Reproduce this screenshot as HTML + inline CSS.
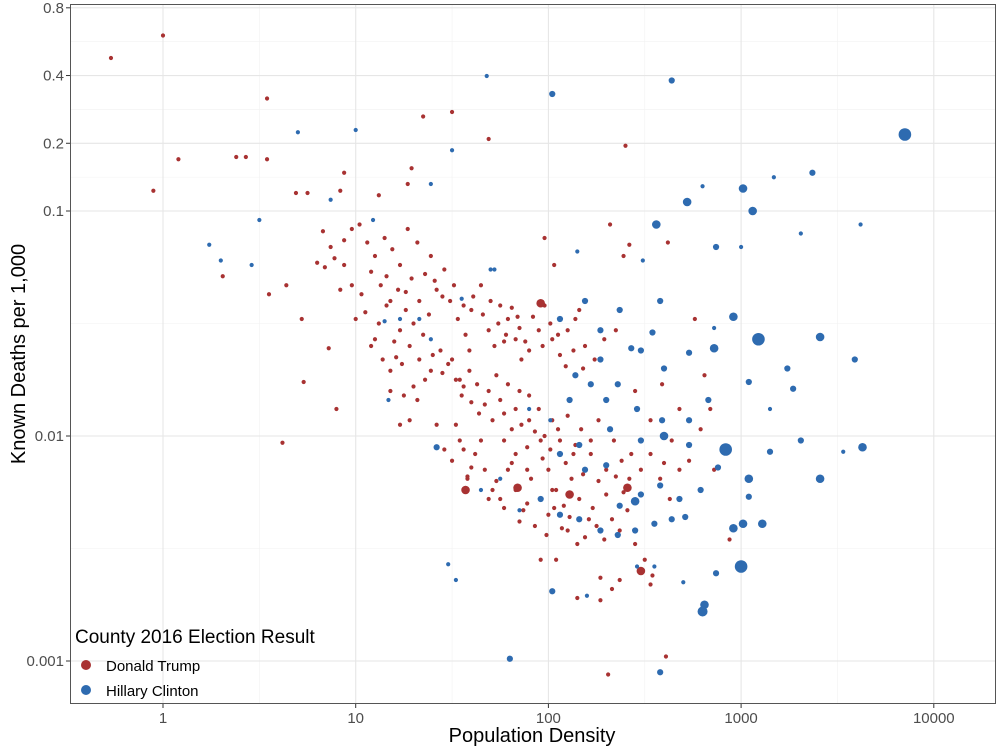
<!DOCTYPE html>
<html>
<head>
<meta charset="utf-8">
<style>
html,body{margin:0;padding:0;background:#fff;}
body{width:1000px;height:750px;overflow:hidden;font-family:"Liberation Sans",Arial,sans-serif;}
svg text{font-family:"Liberation Sans",Arial,sans-serif;}
</style>
</head>
<body>
<svg id="chart" width="1000" height="750" xmlns="http://www.w3.org/2000/svg">
  <rect x="0" y="0" width="1000" height="750" fill="#fff"/>
  <g id="grid"></g>
  <g id="points"></g>
  <rect x="70.5" y="4.5" width="925" height="699" fill="none" stroke="#555" stroke-width="1"/>
  <g id="xticks"></g>
  <g id="yticks"></g>
  <text x="532" y="742" font-size="20" text-anchor="middle" fill="#000">Population Density</text>
  <text transform="translate(25,354) rotate(-90)" font-size="20" text-anchor="middle" fill="#000">Known Deaths per 1,000</text>
  <g>
    <text x="75" y="643" font-size="19" fill="#000">County 2016 Election Result</text>
    <g>
      <circle cx="86" cy="665" r="5" fill="#a83232"/>
      <text x="106" y="671" font-size="15" fill="#000">Donald Trump</text>
    </g>
    <g>
      <circle cx="86" cy="690" r="5" fill="#2e6bb0"/>
      <text x="106" y="696" font-size="15" fill="#000">Hillary Clinton</text>
    </g>
  </g>
</svg>
<script>
// ----- data (log10 of population density, log10 of deaths per 1,000, size class) -----
const xTickValues = [1, 10, 100, 1000, 10000];
const xTickLabels = ["1", "10", "100", "1000", "10000"];
const yTickValues = [0.001, 0.01, 0.1, 0.2, 0.4, 0.8];
const yTickLabels = ["0.001", "0.01", "0.1", "0.2", "0.4", "0.8"];

const trumpLogDensity = [0.83,0.87,0.80,0.89,0.94,0.98,1.02,1.06,1.10,1.15,1.19,1.23,1.27,1.32,1.39,0.94,0.98,1.03,1.08,1.13,1.18,1.22,1.26,1.29,1.33,1.38,1.42,1.46,1.49,1.53,1.57,1.60,1.65,1.69,1.72,1.75,1.79,1.83,1.86,1.90,1.95,1.98,2.02,2.06,2.10,2.14,2.19,2.24,2.29,2.35,1.23,1.28,1.33,1.39,1.44,1.48,1.52,1.55,1.59,1.63,1.67,1.71,1.75,1.79,1.83,1.86,1.90,1.95,1.98,2.02,2.06,2.10,2.14,2.17,2.22,2.26,2.30,2.34,2.38,2.42,2.48,2.53,2.58,2.63,2.68,2.73,2.79,2.84,1.10,1.14,1.18,1.21,1.25,1.28,1.32,1.36,1.42,1.46,1.50,1.54,1.58,1.62,1.67,1.71,1.75,1.79,1.83,1.87,1.91,1.96,2.00,2.04,2.08,2.12,2.16,2.21,2.29,2.33,2.37,2.41,2.45,2.50,2.54,2.33,2.27,2.15,2.10,1.96,2.04,2.45,2.53,2.64,2.68,2.76,2.81,2.86,2.27,2.37,2.53,2.42,2.32,1.98,2.03,2.62,2.16,1.84,1.77,1.59,1.54,2.02,1.96,1.89,1.83,1.77,1.90,2.00,1.18,1.23,0.90,0.86,0.73,0.72,0.64,0.55,0.62,0.31,-0.27,0,0.08,-0.05,0.38,0.43,0.54,0.54,1.35,1.50,1.69,0.69,0.75,0.92,0.94,1.12,1.29,1.27,
1.36,1.41,1.45,1.51,1.56,1.61,1.66,1.70,1.74,1.78,1.81,1.85,1.88,1.92,1.97,2.01,2.05,2.09,2.13,2.18,1.30,1.35,1.40,1.45,1.50,1.56,1.60,1.64,1.69,1.73,1.77,1.81,1.85,1.89,1.93,1.97,2.01,2.05,2.09,2.13,2.18,2.22,2.26,2.30,2.35,2.39,2.43,1.52,1.56,1.60,1.65,1.69,1.73,1.77,1.81,1.85,1.89,1.93,1.99,2.03,2.07,2.11,2.19,2.23,1.05,1.12,1.16,1.20,1.24,1.16,1.26,0.92,1.00,0.84,1.08,1.30,
2.40,2.39,2.25,2.15,2.31,2.61,2.94,2.60,2.59,1.58,1.96,1.57,2.11,2.41,2.48,1.84];
const trumpLogDeaths = [-1.09,-1.16,-1.23,-1.21,-1.13,-1.08,-1.06,-1.14,-1.20,-1.12,-1.17,-1.24,-1.08,-1.14,-1.20,-1.24,-1.33,-1.37,-1.27,-1.33,-1.40,-1.35,-1.44,-1.30,-1.40,-1.46,-1.35,-1.26,-1.40,-1.48,-1.55,-1.44,-1.33,-1.53,-1.60,-1.42,-1.48,-1.57,-1.66,-1.62,-1.53,-1.42,-1.57,-1.64,-1.53,-1.48,-1.60,-1.66,-1.57,-1.53,-1.53,-1.60,-1.66,-1.71,-1.62,-1.68,-1.75,-1.82,-1.71,-1.77,-1.86,-1.93,-1.84,-1.77,-1.88,-1.95,-1.82,-1.88,-2.00,-1.93,-2.02,-1.91,-2.04,-1.97,-2.08,-1.93,-2.15,-2.02,-2.11,-2.19,-2.15,-2.08,-2.19,-2.28,-2.15,-2.11,-1.97,-1.88,-1.57,-1.66,-1.71,-1.65,-1.82,-1.93,-1.84,-1.75,-1.95,-2.06,-2.11,-2.02,-2.19,-2.08,-2.15,-2.24,-2.28,-2.15,-2.24,-2.33,-2.19,-2.28,-2.35,-2.24,-2.31,-2.19,-2.28,-2.37,-2.46,-2.37,-2.42,-2.33,-2.48,-2.55,-2.62,-2.68,-2.63,-2.48,-2.42,-2.55,-2.55,-1.80,-1.93,-2.02,-1.88,-1.48,-1.73,-2.15,-2.73,-2.64,-2.66,-1.15,-1.06,-1.12,-1.24,-1.14,-1.44,-1.47,-1.58,-1.62,-1.75,-2.24,-2.02,-2.15,-2.08,-2.02,-1.93,-2.15,-1.80,-1.95,-1.88,-1.61,-1.76,-1.48,-1.33,-1.37,-2.03,-1.29,-0.32,-0.22,-0.77,-0.91,-0.76,-0.76,-0.50,-0.77,-0.58,-0.56,-0.68,-0.92,-0.92,-0.91,-0.83,-0.93,-0.81,-0.88,
-1.28,-1.31,-1.38,-1.33,-1.42,-1.38,-1.46,-1.40,-1.50,-1.55,-1.43,-1.52,-1.58,-1.47,-1.60,-1.50,-1.55,-1.69,-1.62,-1.70,-1.50,-1.55,-1.64,-1.72,-1.66,-1.78,-1.85,-1.90,-1.80,-1.73,-1.90,-1.97,-1.80,-2.05,-1.98,-2.10,-2.06,-1.97,-2.12,-2.08,-2.17,-2.02,-2.20,-2.26,-2.18,-2.25,-2.08,-1.95,-2.06,-2.14,-2.02,-2.28,-2.20,-2.32,-2.12,-2.38,-2.30,-2.40,-2.44,-2.32,-2.41,-2.36,-2.45,-2.32,-1.45,-1.50,-1.42,-1.58,-1.68,-1.29,-1.36,-1.35,-1.48,-1.25,-1.60,-1.78,
-0.71,-1.20,-2.40,-2.72,-3.06,-2.98,-2.46,-2.12,-1.77,-2.18,-1.41,-2.24,-2.26,-2.23,-2.60,-2.23];
const trumpSize = [1,1,1,1,1,1,1,1,1,1,1,1,1,1,1,1,1,1,1,1,1,1,1,1,1,1,1,1,1,1,1,1,1,1,1,1,1,1,1,1,1,1,1,1,1,1,1,1,1,1,1,1,1,1,1,1,1,1,1,1,1,1,1,1,1,1,1,1,1,1,1,1,1,1,1,1,1,1,1,1,1,1,1,1,1,1,1,1,1,1,1,1,1,1,1,1,1,1,1,1,1,1,1,1,1,1,1,1,1,1,1,1,1,1,1,1,1,1,1,1,1,1,1,1,1,1,1,1,1,1,1,1,1,1,1,1,1,1,1,1,1,1,1,1,1,1,1,1,1,1,1,1,1,1,1,1,1,1,1,1,1,1,1,1,1,1,1,1,1,1,1,1,1,1,1,1,1,1,1,1,1,1,1,1,1,1,1,1,1,1,1,1,1,1,
1,1,1,1,1,1,1,1,1,1,1,1,1,1,1,1,1,1,1,1,1,1,1,1,1,1,1,1,1,1,1,1,1,1,1,1,1,1,1,1,1,1,1,1,1,1,1,1,1,1,1,1,1,1,1,1,1,1,1,1,1,1,1,1,1,1,1,1,1,1,1,1,1,1,1,1,
3,3,3,3,3,3,3,3,3,2,2,2,2,2,2,2];

const clintonLogDensity = [0.24,0.30,0.46,0.50,0.70,1.00,1.68,1.50,1.39,0.87,1.09,1.15,1.17,1.23,1.39,1.42,1.48,1.52,1.55,1.70,1.33,2.02,2.64,3.85,2.80,3.01,3.17,3.37,3.06,2.72,2.56,2.87,3.00,3.62,3.31,2.15,1.72,2.49,2.96,3.09,3.41,2.86,2.86,2.54,2.43,2.73,2.60,3.24,3.04,3.27,3.59,2.83,3.15,2.73,2.59,2.46,2.36,2.27,2.22,2.11,2.01,1.90,2.92,2.73,2.60,2.48,2.32,2.16,2.06,3.15,3.31,3.63,3.53,3.41,3.04,2.88,2.79,2.68,2.58,2.48,2.37,2.45,2.30,2.19,3.04,3.11,3.01,2.96,2.71,2.64,2.55,2.45,2.36,2.27,2.16,2.06,1.96,1.85,1.75,1.65,3.00,2.87,2.70,2.55,2.46,2.81,2.80,2.02,2.20,1.80,2.58,2.06,2.19,2.27,2.37,2.48,2.58,2.14,2.30];
const clintonLogDeaths = [-1.15,-1.22,-1.24,-1.04,-0.65,-0.64,-0.40,-0.73,-0.88,-0.95,-1.04,-1.49,-1.84,-1.48,-1.57,-2.05,-2.57,-2.64,-1.39,-1.26,-1.48,-0.48,-0.42,-0.66,-0.89,-0.90,-0.85,-0.83,-1.00,-0.96,-1.06,-1.16,-1.16,-1.06,-1.10,-1.18,-1.26,-1.22,-1.47,-1.57,-1.56,-1.61,-1.52,-1.54,-1.61,-1.63,-1.70,-1.70,-1.76,-1.79,-1.66,-1.84,-1.88,-1.93,-1.93,-1.88,-1.77,-1.66,-1.77,-1.84,-1.93,-1.88,-2.06,-2.04,-2.00,-2.02,-1.97,-2.04,-2.08,-2.07,-2.02,-2.05,-2.07,-2.19,-2.19,-2.14,-2.24,-2.28,-2.22,-2.26,-2.31,-2.29,-2.13,-2.15,-2.27,-2.39,-2.39,-2.41,-2.36,-2.37,-2.39,-2.42,-2.44,-2.42,-2.37,-2.35,-2.28,-2.33,-2.19,-2.24,-2.58,-2.61,-2.65,-2.58,-2.58,-2.75,-2.78,-2.69,-2.71,-2.99,-3.05,-1.48,-1.40,-1.53,-1.44,-1.62,-1.40,-1.73,-1.84];
const clintonSize = [1,1,1,1,1,1,1,1,1,1,1,1,1,1,1,2,1,1,1,1,1,2,2,5,1,3,1,2,3,3,3,2,1,1,1,1,1,1,3,5,3,3,1,2,2,2,2,2,2,2,2,2,1,2,2,2,2,2,2,2,1,1,5,2,3,2,2,2,2,2,2,3,1,3,3,2,2,2,2,2,2,3,2,2,2,3,3,3,2,2,2,2,2,2,2,2,2,1,1,1,5,2,1,1,1,3,4,2,1,2,2,2,2,2,2,2,2,2,2];

// ----- scales -----
const X0 = 163, XPD = 192.7;
const Y0 = 211, YPD = 225;
function xs(lx){ return X0 + lx * XPD; }
function ys(ly){ return Y0 - (ly + 1) * YPD; }
function radius(s){ return [0,2.1,3.1,4.3,5.0,6.3][s]; }

const NS = "http://www.w3.org/2000/svg";
const grid = document.getElementById('grid');
const pts = document.getElementById('points');
const xt = document.getElementById('xticks');
const yt = document.getElementById('yticks');

function line(parent, x1, y1, x2, y2, stroke, w, name){
  const l = document.createElementNS(NS, 'line');
  l.setAttribute('x1', x1); l.setAttribute('y1', y1);
  l.setAttribute('x2', x2); l.setAttribute('y2', y2);
  l.setAttribute('stroke', stroke); l.setAttribute('stroke-width', w);
  
  
  parent.appendChild(l);
  return l;
}

for (let i = -1; i < xTickValues.length; i++) {
  const lx = (i < 0 ? Math.log10(xTickValues[0]) - 1 : Math.log10(xTickValues[i])) + 0.5;
  const px = xs(lx);
  if (px > 71 && px < 995) line(grid, px, 5, px, 703, '#f2f2f2', 0.6, 'x-minor-gridline');
}
const yLogs = yTickValues.map(v => Math.log10(v));
for (let i = 0; i < yLogs.length - 1; i++) {
  const mid = (yLogs[i] + yLogs[i+1]) / 2;
  line(grid, 71, ys(mid), 995, ys(mid), '#f2f2f2', 0.6, 'y-minor-gridline');
}
xTickValues.forEach((v, i) => {
  const px = xs(Math.log10(v));
  line(grid, px, 5, px, 703, '#e6e6e6', 1.1, 'x-major-gridline');
  line(xt, px, 704, px, 708, '#333', 1, 'x-tick');
  const t = document.createElementNS(NS, 'text');
  t.setAttribute('x', px); t.setAttribute('y', 723);
  t.setAttribute('text-anchor', 'middle'); t.setAttribute('font-size', '15');
  t.setAttribute('fill', '#4d4d4d');
  
  
  t.textContent = xTickLabels[i];
  xt.appendChild(t);
});
yTickValues.forEach((v, i) => {
  const py = ys(Math.log10(v));
  line(grid, 71, py, 995, py, '#e6e6e6', 1.1, 'y-major-gridline');
  line(yt, 66, py, 70, py, '#333', 1, 'y-tick');
  const t = document.createElementNS(NS, 'text');
  t.setAttribute('x', 64); t.setAttribute('y', py + 5);
  t.setAttribute('text-anchor', 'end'); t.setAttribute('font-size', '15');
  t.setAttribute('fill', '#4d4d4d');
  
  
  t.textContent = yTickLabels[i];
  yt.appendChild(t);
});

function drawSeries(lxArr, lyArr, sArr, color, name){
  const g = document.createElementNS(NS, 'g');
  
  
  for (let i = 0; i < lxArr.length; i++) {
    const c = document.createElementNS(NS, 'circle');
    c.setAttribute('cx', xs(lxArr[i]));
    c.setAttribute('cy', ys(lyArr[i]));
    c.setAttribute('r', radius(sArr[i] || 1));
    c.setAttribute('fill', color);
    
    
    g.appendChild(c);
  }
  pts.appendChild(g);
}
drawSeries(trumpLogDensity, trumpLogDeaths, trumpSize, '#a83232', 'trump');
drawSeries(clintonLogDensity, clintonLogDeaths, clintonSize, '#2e6bb0', 'clinton');
</script>
</body>
</html>
